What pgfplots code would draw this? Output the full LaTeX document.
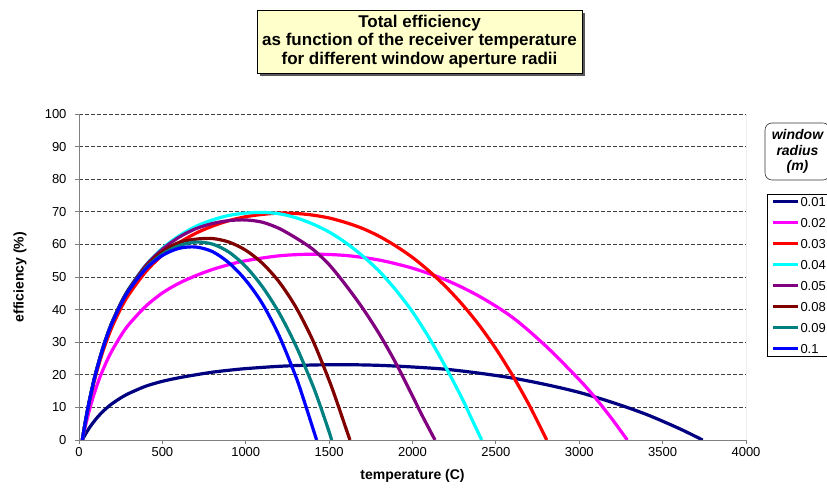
\documentclass[border=0pt]{standalone}
\usepackage{pgfplots}
\pgfplotsset{compat=1.18}
\usepackage{fontspec}
\setmainfont{Liberation Sans}
\usetikzlibrary{shadows}

\definecolor{rA}{HTML}{000080}
\definecolor{rB}{HTML}{FF00FF}
\definecolor{rC}{HTML}{FF0000}
\definecolor{rD}{HTML}{00FFFF}
\definecolor{rE}{HTML}{800080}
\definecolor{rF}{HTML}{800000}
\definecolor{rG}{HTML}{008080}
\definecolor{rH}{HTML}{0000FF}
\definecolor{titlebg}{HTML}{FFFFCC}
\definecolor{axisgray}{HTML}{808080}

\begin{document}
\begin{tikzpicture}[x=1pt,y=1pt]
\begin{axis}[
  at={(0pt,0pt)}, anchor=south west, scale only axis,
  width=667pt, height=326pt,
  xmin=0, xmax=4000, ymin=0, ymax=100,
  xtick={0,500,...,4000}, ytick={0,10,...,100},
  axis x line=bottom, axis y line=left,
  axis line style={axisgray, line width=0.9pt, -},
  tick align=outside, major tick length=4pt,
  tick style={axisgray, line width=0.9pt},
  ymajorgrids,
  major grid style={black!75, line width=0.7pt, dash pattern=on 4pt off 2pt},
  /pgf/number format/1000 sep={},
  /pgf/number format/assume math mode=true,
  tick label style={font=\fontsize{13}{15}\selectfont},
  yticklabel style={xshift=-5pt},
  every axis x label/.style={at={(axis description cs:0.5,-0.1104)}, anchor=center},
  every axis y label/.style={at={(axis description cs:-0.0885,0.5)}, rotate=90, anchor=center},
  xlabel={\fontsize{14}{16}\selectfont\bfseries temperature (C)},
  ylabel={\fontsize{14}{16}\selectfont\bfseries efficiency (\%)},
  legend cell align=left,
  legend image code/.code={\draw[#1, line width=3.2pt] (0pt,0pt) -- (25pt,0pt);},
  legend style={at={(axis description cs:1.0315,0.7546)}, anchor=north west,
    draw=black, line width=0.6pt, font=\fontsize{13}{15}\selectfont,
    inner xsep=4pt, inner ysep=2pt, row sep=10pt,
    nodes={inner sep=1pt, text height=9pt, text depth=0pt}},
  every axis plot/.append style={line width=3.2pt, smooth},
]
% window radius 0.01 m
\addplot[rA] coordinates {
 (20,0) (30,0.97) (40,1.89) (50,2.74) (60,3.54) (75,4.66) (100,6.33) (125,7.78)
 (150,9.07) (175,10.2) (200,11.2) (250,12.9) (300,14.3) (400,16.5) (500,18.0)
 (600,19.1) (700,20.0) (800,20.8) (900,21.4) (1000,21.9) (1200,22.6) (1400,23.0)
 (1600,23.1) (1800,22.9) (2000,22.4) (2200,21.7) (2400,20.5) (2600,19.0)
 (2800,17.0) (3000,14.6) (3200,11.5) (3400,7.9) (3600,3.5) (3740,0)};
\addlegendentry{0.01}
% window radius 0.02 m
\addplot[rB] coordinates {
 (20,0) (30,2.4) (40,4.6) (50,6.7) (60,8.7) (75,11.5) (90,14.0) (100,15.6)
 (125,19.2) (150,22.3) (175,25.1) (200,27.6) (250,31.9) (300,35.5) (400,41.0)
 (500,45.1) (600,48.1) (700,50.4) (800,52.3) (900,53.8) (1000,55.0)
 (1200,56.5) (1400,57.0) (1600,56.6) (1800,55.2) (2000,52.7) (2200,49.1)
 (2400,44.1) (2600,37.6) (2800,28.8) (3000,18.5) (3100,12.7) (3200,6.2) (3288,0)};
\addlegendentry{0.02}
% window radius 0.03 m
\addplot[rC] coordinates {
 (20,0) (30,3.0) (40,5.9) (50,8.5) (60,11.0) (75,14.5) (90,17.7) (100,19.7)
 (125,24.2) (150,28.2) (175,31.7) (200,34.9) (250,40.3) (300,44.7)
 (400,51.6) (500,56.7) (600,60.5) (700,63.4) (800,65.6) (900,67.3) (1000,68.5)
 (1100,69.2) (1200,69.6) (1300,69.5) (1400,69.0) (1500,68.1) (1600,66.7)
 (1700,64.9) (1800,62.5) (1900,59.5) (2000,56.0) (2100,51.8) (2200,47.0)
 (2300,41.5) (2400,35.2) (2500,28.0) (2600,19.8) (2700,10.7) (2805,0)};
\addlegendentry{0.03}
% window radius 0.04 m
\addplot[rD] coordinates {
 (20,0) (30,3.15) (40,6.1) (50,8.85) (60,11.45) (75,15.05) (90,18.4) (100,20.45)
 (125,25.1) (150,29.3) (175,33.0) (200,36.3) (250,41.9) (300,46.5)
 (400,53.6) (500,58.8) (600,62.6) (700,65.5) (800,67.5) (900,68.9) (1000,69.6)
 (1100,69.8) (1200,69.4) (1300,68.2) (1400,66.3) (1500,63.8) (1600,60.5)
 (1700,56.5) (1800,51.8) (1900,46.0) (2000,39.3) (2100,31.3) (2200,22.3)
 (2300,12.5) (2350,7.0) (2415,0)};
\addlegendentry{0.04}
% window radius 0.05 m
\addplot[rE] coordinates {
 (20,0) (30,3.15) (40,6.1) (50,8.85) (60,11.45) (75,15.05) (90,18.4) (100,20.45)
 (125,25.1) (150,29.3) (175,33.0) (200,36.3) (250,41.9) (300,46.4)
 (400,53.5) (500,58.5) (600,62.2) (700,64.8) (800,66.4) (900,67.3) (1000,67.5)
 (1100,66.8) (1200,64.9) (1300,62.0) (1400,58.6) (1500,53.8) (1600,47.5)
 (1700,40.5) (1800,32.6) (1900,23.6) (2000,13.5) (2050,8.3) (2100,3.4) (2135,0)};
\addlegendentry{0.05}
% window radius 0.08 m
\addplot[rF] coordinates {
 (20,0) (30,3.15) (40,6.1) (50,8.85) (60,11.45) (75,15.05) (90,18.4) (100,20.45)
 (125,25.1) (150,29.3) (175,33.0) (200,36.3) (250,41.8) (300,46.3)
 (400,53.1) (500,57.8) (600,60.6) (700,61.6) (800,61.8) (900,60.7) (1000,58.2)
 (1100,54.2) (1200,48.5) (1300,40.8) (1400,30.8) (1500,18.3) (1550,11.2)
 (1600,3.7) (1625,0)};
\addlegendentry{0.08}
% window radius 0.09 m
\addplot[rG] coordinates {
 (20,0) (30,3.15) (40,6.1) (50,8.85) (60,11.45) (75,15.05) (90,18.4) (100,20.45)
 (125,25.1) (150,29.3) (175,33.0) (200,36.2) (250,41.6) (300,46.1)
 (400,52.7) (500,57.0) (600,59.6) (700,60.7) (800,60.1) (900,57.6) (1000,53.2)
 (1100,47.0) (1200,39.0) (1300,29.0) (1400,17.0) (1450,10.0) (1500,2.5) (1515,0)};
\addlegendentry{0.09}
% window radius 0.1 m
\addplot[rH] coordinates {
 (20,0) (30,3.15) (40,6.1) (50,8.85) (60,11.45) (75,15.0) (90,18.4) (100,20.4)
 (125,25.0) (150,29.2) (175,32.9) (200,36.1) (250,41.5) (300,46.0)
 (400,52.5) (500,56.6) (600,58.8) (700,59.2) (800,57.8) (900,54.3) (1000,49.0)
 (1100,41.8) (1200,32.0) (1300,19.5) (1350,12.0) (1400,4.0) (1425,0)};
\addlegendentry{0.1}
% right border of the plot area
\draw[axisgray, line width=0.9pt] (rel axis cs:1,0) -- (rel axis cs:1,1);
\end{axis}

% chart title
\node[draw=black, line width=0.6pt, fill=titlebg, minimum width=325pt, minimum height=63pt,
  align=center, font=\fontsize{17}{18.3}\selectfont\bfseries,
  drop shadow={shadow xshift=3pt, shadow yshift=-3pt, fill=black!65, opacity=1}]
  at (340.5,398.5) {Total efficiency\\as function of the receiver temperature\\for different window aperture radii};

% legend heading
\node[draw=black!80, line width=0.6pt, rounded corners=7pt, fill=white,
  minimum width=65pt, minimum height=57pt, align=center,
  font=\fontsize{14}{15.5}\selectfont\bfseries\itshape]
  at (718.5,288.5) {window\\radius\\(m)};

\pgfresetboundingbox
\path[use as bounding box] (-79,-52) rectangle (748,440);
\end{tikzpicture}
\end{document}
